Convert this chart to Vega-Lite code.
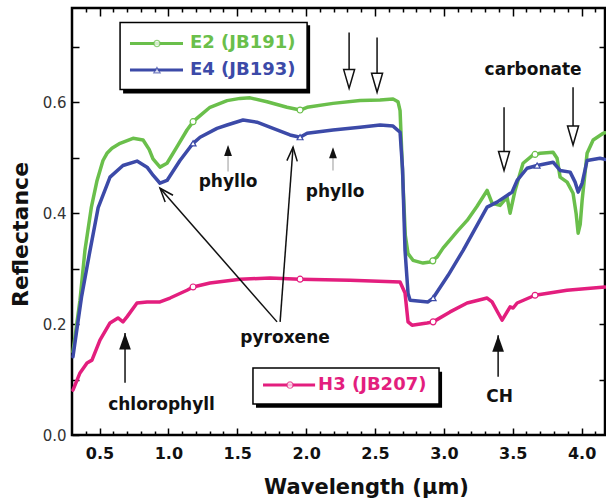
{
 "$schema": "https://vega.github.io/schema/vega-lite/v6.json",
 "width": 533,
 "height": 427,
 "autosize": "none",
 "padding": {"left": 72, "top": 8, "right": 1, "bottom": 64},
 "background": "white",
 "config": {"view": {"stroke": "#000", "strokeWidth": 2.5}, "font": "DejaVu Sans"},
 "datasets": {
  "curves": [
   {"series":"E2","wl":0.307,"r":0.15},{"series":"E2","wl":0.358,"r":0.243},{"series":"E2","wl":0.394,"r":0.333},{"series":"E2","wl":0.44,"r":0.41},{"series":"E2","wl":0.482,"r":0.459},{"series":"E2","wl":0.525,"r":0.495},{"series":"E2","wl":0.554,"r":0.508},{"series":"E2","wl":0.59,"r":0.517},{"series":"E2","wl":0.649,"r":0.526},{"series":"E2","wl":0.743,"r":0.535},{"series":"E2","wl":0.816,"r":0.532},{"series":"E2","wl":0.86,"r":0.515},{"series":"E2","wl":0.888,"r":0.498},{"series":"E2","wl":0.939,"r":0.483},{"series":"E2","wl":0.99,"r":0.49},{"series":"E2","wl":1.063,"r":0.52},{"series":"E2","wl":1.135,"r":0.55},{"series":"E2","wl":1.179,"r":0.565},{"series":"E2","wl":1.23,"r":0.576},{"series":"E2","wl":1.302,"r":0.591},{"series":"E2","wl":1.426,"r":0.603},{"series":"E2","wl":1.52,"r":0.607},{"series":"E2","wl":1.593,"r":0.608},{"series":"E2","wl":1.716,"r":0.601},{"series":"E2","wl":1.861,"r":0.591},{"series":"E2","wl":1.956,"r":0.586},{"series":"E2","wl":2.007,"r":0.591},{"series":"E2","wl":2.195,"r":0.598},{"series":"E2","wl":2.392,"r":0.603},{"series":"E2","wl":2.537,"r":0.604},{"series":"E2","wl":2.631,"r":0.606},{"series":"E2","wl":2.667,"r":0.601},{"series":"E2","wl":2.682,"r":0.585},{"series":"E2","wl":2.704,"r":0.45},{"series":"E2","wl":2.72,"r":0.36},{"series":"E2","wl":2.74,"r":0.327},{"series":"E2","wl":2.776,"r":0.315},{"series":"E2","wl":2.849,"r":0.31},{"series":"E2","wl":2.9,"r":0.312},{"series":"E2","wl":2.951,"r":0.321},{"series":"E2","wl":2.994,"r":0.337},{"series":"E2","wl":3.045,"r":0.352},{"series":"E2","wl":3.1,"r":0.368},{"series":"E2","wl":3.169,"r":0.387},{"series":"E2","wl":3.24,"r":0.412},{"series":"E2","wl":3.314,"r":0.441},{"series":"E2","wl":3.35,"r":0.418},{"series":"E2","wl":3.408,"r":0.414},{"series":"E2","wl":3.459,"r":0.429},{"series":"E2","wl":3.481,"r":0.4},{"series":"E2","wl":3.517,"r":0.441},{"series":"E2","wl":3.575,"r":0.49},{"series":"E2","wl":3.648,"r":0.505},{"series":"E2","wl":3.699,"r":0.508},{"series":"E2","wl":3.793,"r":0.51},{"series":"E2","wl":3.822,"r":0.499},{"series":"E2","wl":3.844,"r":0.465},{"series":"E2","wl":3.895,"r":0.456},{"series":"E2","wl":3.938,"r":0.436},{"series":"E2","wl":3.96,"r":0.4},{"series":"E2","wl":3.975,"r":0.364},{"series":"E2","wl":3.99,"r":0.38},{"series":"E2","wl":4.004,"r":0.423},{"series":"E2","wl":4.04,"r":0.508},{"series":"E2","wl":4.084,"r":0.532},{"series":"E2","wl":4.157,"r":0.544},{"series":"E2","wl":4.17,"r":0.545},
   {"series":"E4","wl":0.307,"r":0.141},{"series":"E4","wl":0.37,"r":0.25},{"series":"E4","wl":0.431,"r":0.333},{"series":"E4","wl":0.49,"r":0.41},{"series":"E4","wl":0.576,"r":0.465},{"series":"E4","wl":0.67,"r":0.486},{"series":"E4","wl":0.772,"r":0.494},{"series":"E4","wl":0.845,"r":0.483},{"series":"E4","wl":0.89,"r":0.468},{"series":"E4","wl":0.939,"r":0.454},{"series":"E4","wl":0.99,"r":0.459},{"series":"E4","wl":1.084,"r":0.495},{"series":"E4","wl":1.179,"r":0.526},{"series":"E4","wl":1.23,"r":0.537},{"series":"E4","wl":1.353,"r":0.553},{"series":"E4","wl":1.426,"r":0.559},{"series":"E4","wl":1.542,"r":0.568},{"series":"E4","wl":1.643,"r":0.564},{"series":"E4","wl":1.76,"r":0.553},{"series":"E4","wl":1.883,"r":0.541},{"series":"E4","wl":1.956,"r":0.537},{"series":"E4","wl":2.007,"r":0.544},{"series":"E4","wl":2.195,"r":0.55},{"series":"E4","wl":2.392,"r":0.555},{"series":"E4","wl":2.537,"r":0.559},{"series":"E4","wl":2.631,"r":0.557},{"series":"E4","wl":2.682,"r":0.546},{"series":"E4","wl":2.7,"r":0.48},{"series":"E4","wl":2.718,"r":0.333},{"series":"E4","wl":2.74,"r":0.255},{"series":"E4","wl":2.755,"r":0.243},{"series":"E4","wl":2.885,"r":0.24},{"series":"E4","wl":2.922,"r":0.247},{"series":"E4","wl":3.031,"r":0.288},{"series":"E4","wl":3.14,"r":0.333},{"series":"E4","wl":3.314,"r":0.411},{"series":"E4","wl":3.386,"r":0.42},{"series":"E4","wl":3.459,"r":0.432},{"series":"E4","wl":3.495,"r":0.438},{"series":"E4","wl":3.532,"r":0.459},{"series":"E4","wl":3.604,"r":0.481},{"series":"E4","wl":3.677,"r":0.486},{"series":"E4","wl":3.793,"r":0.492},{"series":"E4","wl":3.844,"r":0.477},{"series":"E4","wl":3.917,"r":0.474},{"series":"E4","wl":3.953,"r":0.456},{"series":"E4","wl":3.975,"r":0.438},{"series":"E4","wl":4.004,"r":0.454},{"series":"E4","wl":4.04,"r":0.495},{"series":"E4","wl":4.134,"r":0.499},{"series":"E4","wl":4.17,"r":0.497},
   {"series":"H3","wl":0.307,"r":0.081},{"series":"H3","wl":0.358,"r":0.112},{"series":"H3","wl":0.409,"r":0.13},{"series":"H3","wl":0.445,"r":0.135},{"series":"H3","wl":0.503,"r":0.171},{"series":"H3","wl":0.576,"r":0.202},{"series":"H3","wl":0.634,"r":0.211},{"series":"H3","wl":0.67,"r":0.204},{"series":"H3","wl":0.699,"r":0.213},{"series":"H3","wl":0.772,"r":0.238},{"series":"H3","wl":0.845,"r":0.24},{"series":"H3","wl":0.939,"r":0.24},{"series":"H3","wl":1.012,"r":0.247},{"series":"H3","wl":1.135,"r":0.261},{"series":"H3","wl":1.179,"r":0.267},{"series":"H3","wl":1.302,"r":0.274},{"series":"H3","wl":1.52,"r":0.281},{"series":"H3","wl":1.738,"r":0.283},{"series":"H3","wl":1.956,"r":0.281},{"series":"H3","wl":2.319,"r":0.279},{"series":"H3","wl":2.682,"r":0.276},{"series":"H3","wl":2.718,"r":0.256},{"series":"H3","wl":2.74,"r":0.204},{"series":"H3","wl":2.769,"r":0.198},{"series":"H3","wl":2.878,"r":0.202},{"series":"H3","wl":2.922,"r":0.204},{"series":"H3","wl":3.045,"r":0.222},{"series":"H3","wl":3.169,"r":0.238},{"series":"H3","wl":3.314,"r":0.247},{"series":"H3","wl":3.35,"r":0.24},{"series":"H3","wl":3.394,"r":0.22},{"series":"H3","wl":3.423,"r":0.207},{"series":"H3","wl":3.459,"r":0.222},{"series":"H3","wl":3.481,"r":0.231},{"series":"H3","wl":3.503,"r":0.229},{"series":"H3","wl":3.532,"r":0.238},{"series":"H3","wl":3.662,"r":0.252},{"series":"H3","wl":3.894,"r":0.261},{"series":"H3","wl":4.17,"r":0.267}
  ],
  "markers": [
   {"series":"E2","wl":1.179,"r":0.565},{"series":"E2","wl":1.956,"r":0.586},{"series":"E2","wl":2.92,"r":0.314},{"series":"E2","wl":3.662,"r":0.506},
   {"series":"E4","wl":1.179,"r":0.526},{"series":"E4","wl":1.956,"r":0.537},{"series":"E4","wl":2.922,"r":0.247},{"series":"E4","wl":3.677,"r":0.486},
   {"series":"H3","wl":1.179,"r":0.267},{"series":"H3","wl":1.956,"r":0.281},{"series":"H3","wl":2.922,"r":0.204},{"series":"H3","wl":3.662,"r":0.252}
  ],
  "boxes": [
   {"kind":"shadow","wl":0.671,"wl2":2.029,"r":0.739,"r2":0.616},
   {"kind":"shadow","wl":1.636,"wl2":2.987,"r":0.114,"r2":0.049},
   {"kind":"box","wl":0.649,"wl2":2.007,"r":0.744,"r2":0.623},
   {"kind":"box","wl":1.614,"wl2":2.965,"r":0.121,"r2":0.056}
  ],
  "legend": [
   {"series":"E2","label":"E2 (JB191)","wl":0.721,"wl2":1.106,"markwl":0.917,"labelwl":1.157,"r":0.706},
   {"series":"E4","label":"E4 (JB193)","wl":0.721,"wl2":1.106,"markwl":0.917,"labelwl":1.157,"r":0.658},
   {"series":"H3","label":"H3 (JB207)","wl":1.687,"wl2":2.065,"markwl":1.883,"labelwl":2.087,"r":0.09}
  ],
  "stems": [
   {"kind":"black","wl":2.312,"r":0.726,"wl2":2.312,"r2":0.63},
   {"kind":"black","wl":2.515,"r":0.717,"wl2":2.515,"r2":0.622},
   {"kind":"black","wl":3.437,"r":0.591,"wl2":3.437,"r2":0.48},
   {"kind":"black","wl":3.938,"r":0.627,"wl2":3.938,"r2":0.525},
   {"kind":"black","wl":0.685,"r":0.094,"wl2":0.685,"r2":0.184},
   {"kind":"black","wl":3.394,"r":0.105,"wl2":3.394,"r2":0.18},
   {"kind":"black","wl":1.789,"r":0.204,"wl2":0.939,"r2":0.445},
   {"kind":"black","wl":1.811,"r":0.204,"wl2":1.905,"r2":0.519},
   {"kind":"grey","wl":1.433,"r":0.475,"wl2":1.433,"r2":0.52},
   {"kind":"grey","wl":2.195,"r":0.477,"wl2":2.195,"r2":0.516}
  ],
  "heads": [
   {"kind":"open","wl":2.312,"r":0.625,"angle":0},
   {"kind":"open","wl":2.515,"r":0.618,"angle":0},
   {"kind":"open","wl":3.437,"r":0.477,"angle":0},
   {"kind":"open","wl":3.938,"r":0.523,"angle":0},
   {"kind":"solid","wl":0.685,"r":0.184,"angle":0},
   {"kind":"solid","wl":3.394,"r":0.18,"angle":0},
   {"kind":"small","wl":1.433,"r":0.523,"angle":0},
   {"kind":"small","wl":2.195,"r":0.519,"angle":0},
   {"kind":"vee","wl":0.939,"r":0.445,"angle":319},
   {"kind":"vee","wl":1.905,"r":0.519,"angle":4}
  ],
  "notes": [
   {"label":"phyllo","wl":1.433,"r":0.456},
   {"label":"phyllo","wl":2.21,"r":0.438},
   {"label":"pyroxene","wl":1.847,"r":0.175},
   {"label":"chlorophyll","wl":0.95,"r":0.054},
   {"label":"carbonate","wl":3.648,"r":0.658},
   {"label":"CH","wl":3.405,"r":0.068}
  ]
 },
 "resolve": {"axis": {"x": "independent", "y": "independent"}},
 "encoding": {
  "x": {"field": "wl", "type": "quantitative", "scale": {"domain": [0.3, 4.17], "nice": false, "zero": false}, "axis": null},
  "y": {"field": "r", "type": "quantitative", "scale": {"domain": [0, 0.77], "nice": false, "zero": false}, "axis": null}
 },
 "layer": [
  {
   "data": {"name": "boxes"},
   "transform": [{"filter": "datum.kind == 'shadow'"}],
   "mark": {"type": "rect", "fill": "#000"},
   "encoding": {
    "x": {"field": "wl", "type": "quantitative", "scale": {"domain": [0.3, 4.17], "nice": false, "zero": false},
      "axis": {"orient": "top", "values": [0.5,1.0,1.5,2.0,2.5,3.0,3.5,4.0], "labels": false, "title": null, "domain": false, "grid": false, "tickSize": -8, "tickWidth": 1.5, "tickColor": "#000"}},
    "x2": {"field": "wl2"},
    "y2": {"field": "r2"}
   }
  },
  {
   "data": {"name": "boxes"},
   "transform": [{"filter": "datum.kind == 'box'"}],
   "mark": {"type": "rect", "fill": "#fff", "stroke": "#000", "strokeWidth": 1.5},
   "encoding": {
    "x": {"field": "wl", "type": "quantitative", "scale": {"domain": [0.3, 4.17], "nice": false, "zero": false},
      "axis": {"orient": "top", "values": [0.4,0.6,0.7,0.8,0.9,1.1,1.2,1.3,1.4,1.6,1.7,1.8,1.9,2.1,2.2,2.3,2.4,2.6,2.7,2.8,2.9,3.1,3.2,3.3,3.4,3.6,3.7,3.8,3.9,4.1], "labels": false, "title": null, "domain": false, "grid": false, "tickSize": -4, "tickWidth": 1.5, "tickColor": "#000"}},
    "x2": {"field": "wl2"},
    "y2": {"field": "r2"}
   }
  },
  {
   "data": {"name": "curves"},
   "mark": {"type": "line", "strokeWidth": 3.5, "strokeJoin": "round", "strokeCap": "round"},
   "encoding": {
    "x": {"field": "wl", "type": "quantitative", "scale": {"domain": [0.3, 4.17], "nice": false, "zero": false},
      "axis": {"orient": "bottom", "values": [0.5,1.0,1.5,2.0,2.5,3.0,3.5,4.0], "format": ".1f", "labelFont": "DejaVu Sans", "labelFontWeight": "bold", "labelFontSize": 16, "labelColor": "#111", "labelPadding": 17, "tickSize": -7, "tickWidth": 1.5, "tickColor": "#000", "domain": false, "grid": false,
        "title": "Wavelength (μm)", "titleFont": "DejaVu Sans", "titleFontSize": 21, "titleFontWeight": "bold", "titleColor": "#111", "titleX": 294, "titleY": 52, "titleBaseline": "middle", "titleAlign": "center"}},
    "y": {"field": "r", "type": "quantitative", "scale": {"domain": [0, 0.77], "nice": false, "zero": false},
      "axis": {"orient": "left", "values": [0,0.1,0.2,0.3,0.4,0.5,0.6,0.7], "labelExpr": "round(datum.value*10) % 2 == 0 ? format(datum.value, '.1f') : ''", "labelFont": "DejaVu Sans", "labelFontSize": 15, "labelColor": "#333", "labelPadding": 13, "tickSize": -7, "tickWidth": 1.5, "tickColor": "#000", "domain": false, "grid": false,
        "title": "Reflectance", "titleFont": "DejaVu Sans", "titleFontSize": 22, "titleFontWeight": "bold", "titleColor": "#111", "titleX": -52, "titleY": 226, "titleAngle": -90, "titleBaseline": "middle", "titleAlign": "center"}},
    "color": {"field": "series", "type": "nominal", "scale": {"domain": ["E2","E4","H3"], "range": ["#6abf4b","#3c4aa8","#e31e7e"]}, "legend": null}
   }
  },
  {
   "data": {"name": "markers"},
   "mark": {"type": "point", "filled": true, "fill": "#fff", "strokeWidth": 1.2, "size": 35, "opacity": 1},
   "encoding": {
    "x": {"field": "wl", "type": "quantitative", "scale": {"domain": [0.3, 4.17], "nice": false, "zero": false},
      "axis": {"orient": "bottom", "values": [0.4,0.6,0.7,0.8,0.9,1.1,1.2,1.3,1.4,1.6,1.7,1.8,1.9,2.1,2.2,2.3,2.4,2.6,2.7,2.8,2.9,3.1,3.2,3.3,3.4,3.6,3.7,3.8,3.9,4.1], "labels": false, "title": null, "domain": false, "grid": false, "tickSize": -4, "tickWidth": 1.5, "tickColor": "#000"}},
    "y": {"field": "r", "type": "quantitative", "scale": {"domain": [0, 0.77], "nice": false, "zero": false},
      "axis": {"orient": "right", "values": [0.1,0.2,0.3,0.4,0.5,0.6,0.7], "labels": false, "title": null, "domain": false, "grid": false, "tickSize": -6, "tickWidth": 1.5, "tickColor": "#000"}},
    "stroke": {"field": "series", "type": "nominal", "scale": {"domain": ["E2","E4","H3"], "range": ["#6abf4b","#3c4aa8","#e31e7e"]}, "legend": null},
    "shape": {"field": "series", "type": "nominal", "scale": {"domain": ["E2","E4","H3"], "range": ["circle","triangle-up","circle"]}, "legend": null}
   }
  },
  {
   "data": {"name": "legend"},
   "mark": {"type": "rule", "strokeWidth": 3},
   "encoding": {
    "x2": {"field": "wl2"},
    "color": {"field": "series", "type": "nominal", "scale": {"domain": ["E2","E4","H3"], "range": ["#6abf4b","#3c4aa8","#e31e7e"]}, "legend": null}
   }
  },
  {
   "data": {"name": "legend"},
   "mark": {"type": "point", "filled": true, "fill": "#fff", "strokeWidth": 1.2, "size": 40},
   "encoding": {
    "x": {"field": "markwl", "type": "quantitative", "scale": {"domain": [0.3, 4.17], "nice": false, "zero": false}, "axis": null},
    "stroke": {"field": "series", "type": "nominal", "scale": {"domain": ["E2","E4","H3"], "range": ["#6abf4b","#3c4aa8","#e31e7e"]}, "legend": null},
    "shape": {"field": "series", "type": "nominal", "scale": {"domain": ["E2","E4","H3"], "range": ["circle","triangle-up","circle"]}, "legend": null}
   }
  },
  {
   "data": {"name": "legend"},
   "mark": {"type": "text", "align": "left", "baseline": "middle", "font": "DejaVu Sans", "fontWeight": "bold", "fontSize": 18},
   "encoding": {
    "x": {"field": "labelwl", "type": "quantitative", "scale": {"domain": [0.3, 4.17], "nice": false, "zero": false}, "axis": null},
    "text": {"field": "label"},
    "color": {"field": "series", "type": "nominal", "scale": {"domain": ["E2","E4","H3"], "range": ["#6abf4b","#3c4aa8","#e31e7e"]}, "legend": null}
   }
  },
  {
   "data": {"name": "stems"},
   "transform": [{"filter": "datum.kind == 'black'"}],
   "mark": {"type": "rule", "strokeWidth": 1.5, "color": "#111"},
   "encoding": {"x2": {"field": "wl2"}, "y2": {"field": "r2"}}
  },
  {
   "data": {"name": "stems"},
   "transform": [{"filter": "datum.kind == 'grey'"}],
   "mark": {"type": "rule", "strokeWidth": 1.5, "color": "#bbb"},
   "encoding": {"x2": {"field": "wl2"}, "y2": {"field": "r2"}}
  },
  {
   "data": {"name": "heads"},
   "transform": [{"filter": "datum.kind == 'open'"}],
   "mark": {"type": "point", "shape": "M -0.55 -1.9 L 0 0 L 0.55 -1.9 Z", "filled": true, "fill": "#fff", "stroke": "#111", "strokeWidth": 1.5, "size": 400, "opacity": 1}
  },
  {
   "data": {"name": "heads"},
   "transform": [{"filter": "datum.kind == 'solid'"}],
   "mark": {"type": "point", "shape": "M -0.6 1.7 L 0 0 L 0.6 1.7 Z", "filled": true, "fill": "#111", "strokeWidth": 0, "size": 380, "opacity": 1}
  },
  {
   "data": {"name": "heads"},
   "transform": [{"filter": "datum.kind == 'small'"}],
   "mark": {"type": "point", "shape": "M -0.6 1.7 L 0 0 L 0.6 1.7 Z", "filled": true, "fill": "#111", "strokeWidth": 0, "size": 170, "opacity": 1}
  },
  {
   "data": {"name": "heads"},
   "transform": [{"filter": "datum.kind == 'vee'"}],
   "mark": {"type": "point", "shape": "M -0.6 1.6 L 0 0 L 0.6 1.6", "filled": false, "stroke": "#111", "strokeWidth": 1.5, "size": 300, "opacity": 1},
   "encoding": {"angle": {"field": "angle", "type": "quantitative", "scale": null}}
  },
  {
   "data": {"name": "notes"},
   "mark": {"type": "text", "align": "center", "baseline": "middle", "font": "DejaVu Sans", "fontWeight": "bold", "fontSize": 17, "color": "#111"},
   "encoding": {"text": {"field": "label"}}
  }
 ]
}
